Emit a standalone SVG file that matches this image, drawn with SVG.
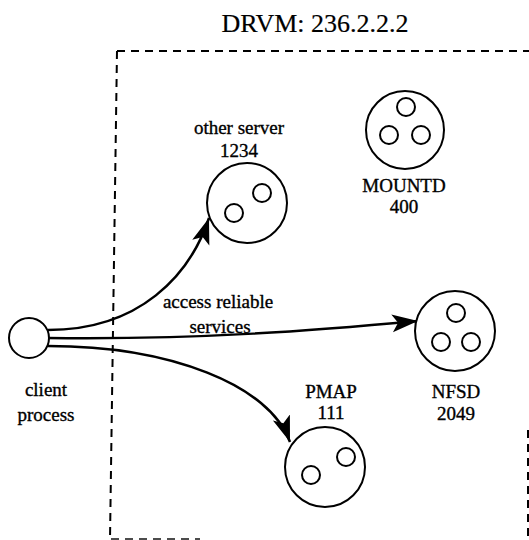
<svg xmlns="http://www.w3.org/2000/svg" width="529" height="540" viewBox="0 0 529 540">
<defs>
<style>
text{font-family:'Liberation Serif',serif;fill:#000;stroke:#000;stroke-width:0.35;text-anchor:middle}
.lbl{font-size:19px}
.title{font-size:26px;stroke-width:0.2}
.node{fill:#fff;stroke:#000;stroke-width:2}
.inner{fill:none;stroke:#000;stroke-width:2}
.box{fill:none;stroke:#000;stroke-width:2;stroke-dasharray:8 6}
.conn{fill:none;stroke:#000;stroke-width:2.5}
</style>
<marker id="arr" markerUnits="userSpaceOnUse" markerWidth="28" markerHeight="20" refX="26" refY="9" orient="auto">
<path d="M0,0 L26,9 L0,18 L6,9 z" fill="#000"/>
</marker>
</defs>
<rect width="529" height="540" fill="#fff"/>
<text class="title" x="315" y="32" font-family="Liberation Serif, serif">DRVM: 236.2.2.2</text>
<g id="boundary">
<path class="box" d="M117,51 L529,51"/>
<path class="box" d="M117,51 L110,539"/>
<path class="box" d="M111,539 L200,539" stroke-opacity="0.7"/>
<path class="box" d="M528,430 L528,540"/>
</g>
<g id="connectors">
<path class="conn" d="M48,330 C140,330 190,275 209,218" marker-end="url(#arr)"/>
<path class="conn" d="M48,338 C200,340 320,330 418,321" marker-end="url(#arr)"/>
<path class="conn" d="M48,346 C170,346 270,385 290,442" marker-end="url(#arr)"/>
<text class="lbl" x="218" y="308" font-family="Liberation Serif, serif">access reliable</text>
<text class="lbl" x="220" y="333" font-family="Liberation Serif, serif">services</text>
</g>
<g id="client">
<circle class="node" cx="29" cy="338" r="20"/>
<text class="lbl" x="46" y="396" font-family="Liberation Serif, serif">client</text>
<text class="lbl" x="46" y="421" font-family="Liberation Serif, serif">process</text>
</g>
<g id="other-server">
<circle class="node" cx="247" cy="203" r="40"/>
<circle class="inner" cx="262" cy="193" r="9"/>
<circle class="inner" cx="234" cy="213" r="9"/>
<text class="lbl" x="239" y="134" font-family="Liberation Serif, serif">other server</text>
<text class="lbl" x="239" y="157" font-family="Liberation Serif, serif">1234</text>
</g>
<g id="mountd">
<circle class="node" cx="405" cy="130" r="39"/>
<circle class="inner" cx="406" cy="107" r="9"/>
<circle class="inner" cx="389" cy="135" r="9"/>
<circle class="inner" cx="421" cy="135" r="9"/>
<text class="lbl" x="404" y="192" font-family="Liberation Serif, serif">MOUNTD</text>
<text class="lbl" x="404" y="213" font-family="Liberation Serif, serif">400</text>
</g>
<g id="nfsd">
<circle class="node" cx="455" cy="331" r="40"/>
<circle class="inner" cx="456" cy="313" r="9"/>
<circle class="inner" cx="441" cy="342" r="9"/>
<circle class="inner" cx="471" cy="342" r="9"/>
<text class="lbl" x="456" y="398" font-family="Liberation Serif, serif">NFSD</text>
<text class="lbl" x="456" y="420" font-family="Liberation Serif, serif">2049</text>
</g>
<g id="pmap">
<circle class="node" cx="325" cy="467" r="40"/>
<circle class="inner" cx="346" cy="457" r="9"/>
<circle class="inner" cx="311" cy="475" r="9"/>
<text class="lbl" x="331" y="398" font-family="Liberation Serif, serif">PMAP</text>
<text class="lbl" x="331" y="419" font-family="Liberation Serif, serif">111</text>
</g>
</svg>
